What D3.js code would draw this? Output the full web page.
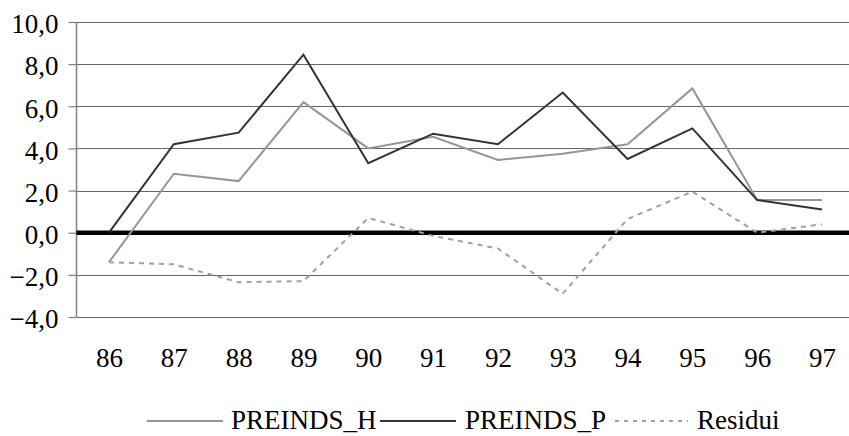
<!DOCTYPE html>
<html>
<head>
<meta charset="utf-8">
<script src="https://cdn.jsdelivr.net/npm/d3@7"></script>
<style>
  html, body { margin: 0; padding: 0; background: #fff; }
  svg { display: block; }
</style>
</head>
<body>
<svg id="chart" width="849" height="436"></svg>
<script>
const categories = ["86","87","88","89","90","91","92","93","94","95","96","97"];
const preindsH = [-1.4, 2.8, 2.45, 6.2, 4.0, 4.55, 3.45, 3.75, 4.2, 6.85, 1.55, 1.55];
const preindsP = [0.0, 4.2, 4.75, 8.45, 3.3, 4.7, 4.2, 6.65, 3.5, 4.95, 1.55, 1.1];
const residui  = [-1.4, -1.5, -2.35, -2.3, 0.7, -0.15, -0.75, -2.9, 0.65, 1.95, 0.0, 0.4];
const yTicks = [-4, -2, 0, 2, 4, 6, 8, 10];
const seriesNames = ["PREINDS_H", "PREINDS_P", "Residui"];

const FS = "27px";
const svg = d3.select("#chart");
const fmt = v => d3.format(".1f")(v).replace(".", ",");

const x = d3.scalePoint().domain(categories).range([109, 822]);
const y = d3.scaleLinear().domain([-4, 10]).range([317, 22]);
const axisX = 76.5, gridRight = 849;

svg.append("g").selectAll("line").data(yTicks.filter(d => d !== 0)).join("line")
  .attr("x1", axisX).attr("x2", gridRight)
  .attr("y1", d => Math.round(y(d)) + 0.5).attr("y2", d => Math.round(y(d)) + 0.5)
  .attr("stroke", "#666").attr("stroke-width", 1.2);

const yAxis = d3.axisLeft(y).tickValues(yTicks).tickSize(8).tickFormat(fmt);
const gy = svg.append("g").attr("transform", `translate(${axisX},0)`).call(yAxis);
gy.select(".domain").attr("stroke", "#808080").attr("stroke-width", 1.5)
  .attr("d", `M0,${y(10)}V${y(-4)}`);
gy.selectAll(".tick line").attr("stroke", "#808080").attr("stroke-width", 1.2);
gy.selectAll(".tick text").attr("x", -18).attr("dy", "0.4em").attr("fill", "#000")
  .style("font-family", '"Liberation Serif"').style("font-size", FS);

const xAxis = d3.axisBottom(x).tickSize(0);
const gx = svg.append("g").attr("transform", `translate(0,${y(-4)})`).call(xAxis);
gx.select(".domain").remove();
gx.selectAll(".tick text").attr("y", 50).attr("dy", 0).attr("fill", "#000")
  .style("font-family", '"Liberation Serif"').style("font-size", FS);

svg.append("line").attr("x1", axisX).attr("x2", gridRight)
  .attr("y1", y(0)).attr("y2", y(0))
  .attr("stroke", "#000").attr("stroke-width", 4.5);

const line = d3.line().x((d, i) => x(categories[i])).y(d => y(d));
const styles = [
  { data: preindsH, stroke: "#969696", width: 2, dash: null },
  { data: preindsP, stroke: "#333333", width: 2, dash: null },
  { data: residui,  stroke: "#a0a0a0", width: 2, dash: "5,5" }
];
styles.forEach(s => {
  svg.append("path").datum(s.data).attr("d", line)
    .attr("fill", "none").attr("stroke", s.stroke).attr("stroke-width", s.width)
    .attr("stroke-dasharray", s.dash).attr("stroke-linejoin", "miter");
});

const legendY = 421;
const legendItems = [
  { name: seriesNames[0], x1: 147, x2: 223, tx: 231 },
  { name: seriesNames[1], x1: 380, x2: 456, tx: 465 },
  { name: seriesNames[2], x1: 615, x2: 688, tx: 697 }
];
const lg = svg.append("g");
legendItems.forEach((it, i) => {
  lg.append("line").attr("x1", it.x1).attr("x2", it.x2)
    .attr("y1", legendY).attr("y2", legendY)
    .attr("stroke", styles[i].stroke).attr("stroke-width", styles[i].width)
    .attr("stroke-dasharray", i === 2 ? "4,5" : null);
  lg.append("text").attr("x", it.tx).attr("y", 429).attr("fill", "#000")
    .style("font-family", '"Liberation Serif"').style("font-size", FS).text(it.name);
});
</script>
</body>
</html>
